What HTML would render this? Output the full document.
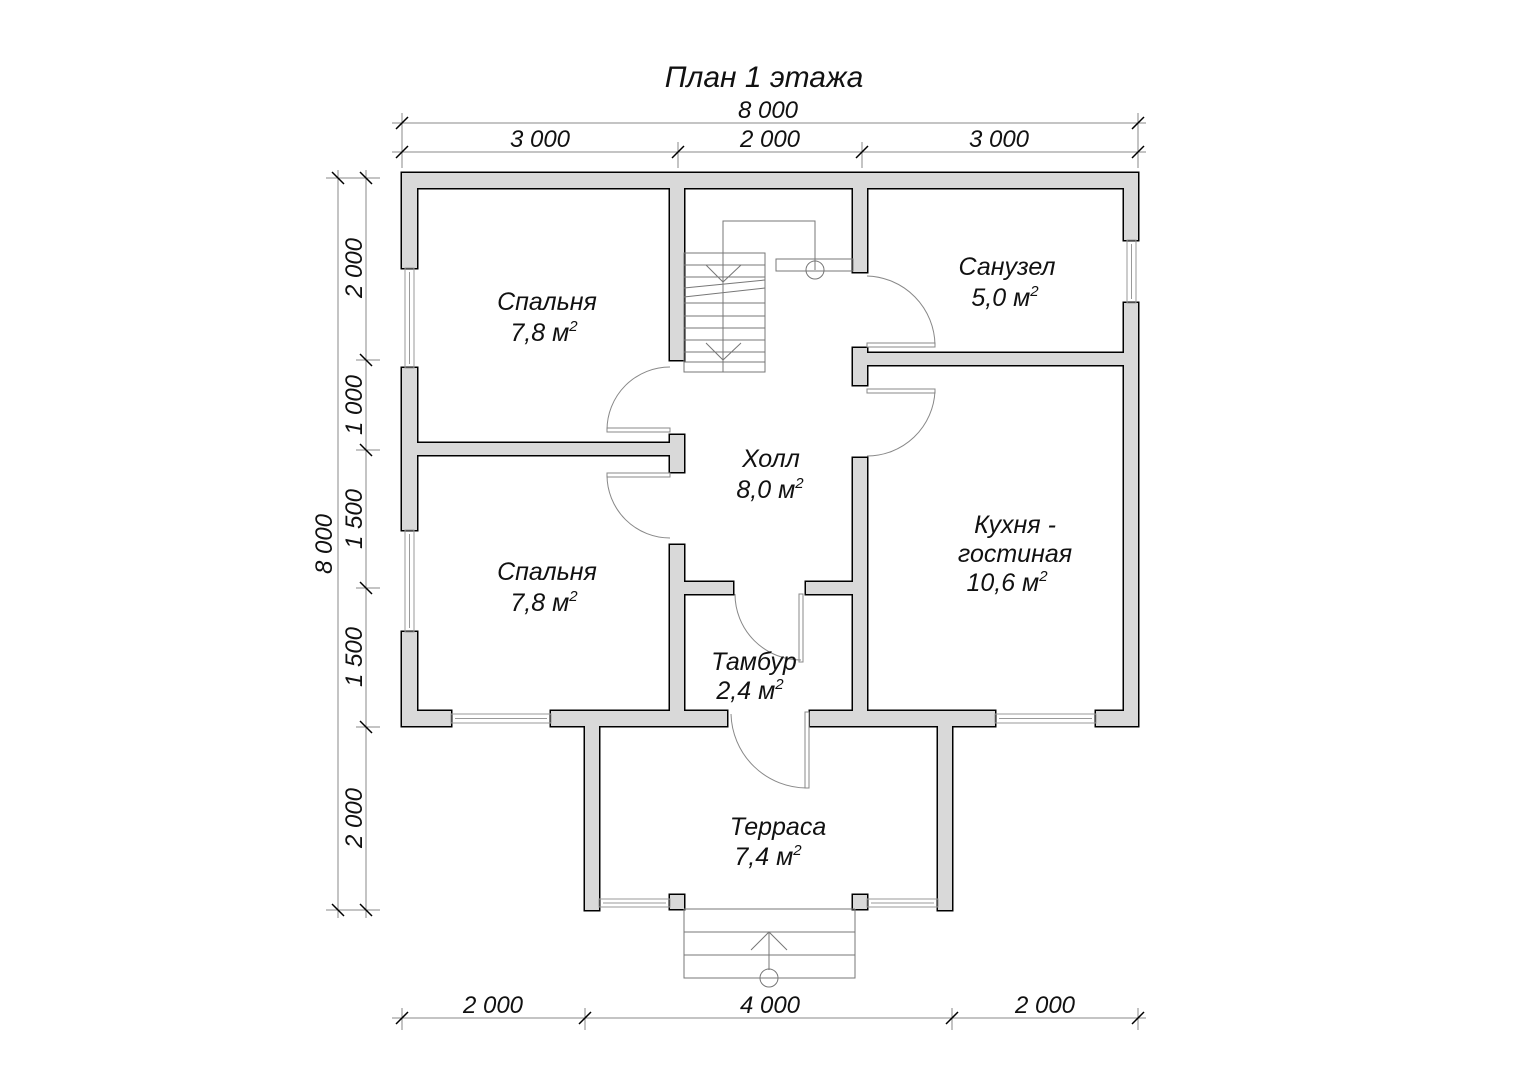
<!DOCTYPE html>
<html><head><meta charset="utf-8"><style>
html,body{margin:0;padding:0;background:#fff}
svg{display:block}
text{font-family:"Liberation Sans",sans-serif;font-style:italic;fill:#111}
</style></head><body>
<svg width="1528" height="1080" viewBox="0 0 1528 1080" xmlns="http://www.w3.org/2000/svg">
<defs>
<g id="walls">
<rect x="402" y="173" width="736" height="15"/>
<rect x="402" y="173" width="15" height="95"/>
<rect x="402" y="368" width="15" height="162"/>
<rect x="402" y="632" width="15" height="94"/>
<rect x="1124" y="173" width="14" height="67"/>
<rect x="1124" y="303" width="14" height="423"/>
<rect x="402" y="711" width="49" height="15"/>
<rect x="551" y="711" width="176" height="15"/>
<rect x="810" y="711" width="185" height="15"/>
<rect x="1096" y="711" width="42" height="15"/>
<rect x="585" y="711" width="14" height="199"/>
<rect x="938" y="711" width="14" height="199"/>
<rect x="670" y="895" width="14" height="14"/>
<rect x="853" y="895" width="14" height="14"/>
<rect x="670" y="188" width="14" height="172"/>
<rect x="670" y="435" width="14" height="37"/>
<rect x="670" y="545" width="14" height="166"/>
<rect x="417" y="443" width="253" height="12"/>
<rect x="853" y="188" width="14" height="84"/>
<rect x="853" y="348" width="14" height="37"/>
<rect x="853" y="458" width="14" height="253"/>
<rect x="867" y="353" width="257" height="12"/>
<rect x="684" y="582" width="49" height="12"/>
<rect x="806" y="582" width="47" height="12"/>
</g>
</defs>
<g stroke="#000" stroke-width="3" fill="#000"><use href="#walls"/></g>
<g fill="#d9d9d9"><use href="#walls"/></g>

<g fill="none" stroke="#999" stroke-width="1">
<rect x="405" y="268" width="9" height="100"/><line x1="409.5" y1="272" x2="409.5" y2="364"/>
<rect x="405" y="530" width="9" height="102"/><line x1="409.5" y1="534" x2="409.5" y2="628"/>
<rect x="1127" y="240" width="9" height="63"/><line x1="1131.5" y1="244" x2="1131.5" y2="299"/>
<rect x="451" y="714" width="100" height="9"/><line x1="455" y1="718.5" x2="547" y2="718.5"/>
<rect x="995" y="714" width="101" height="9"/><line x1="999" y1="718.5" x2="1092" y2="718.5"/>
<rect x="599" y="899" width="71" height="8"/><line x1="603" y1="903" x2="666" y2="903"/>
<rect x="867" y="899" width="71" height="8"/><line x1="871" y1="903" x2="934" y2="903"/>
</g>

<g fill="none" stroke="#888" stroke-width="1">
<rect x="607" y="428" width="63" height="4"/>
<path d="M607 430 A63 63 0 0 1 670 367"/>
<rect x="607" y="473" width="63" height="4"/>
<path d="M607 475 A63 63 0 0 0 670 538"/>
<rect x="867" y="343" width="68" height="4"/>
<path d="M935 345 A70 70 0 0 0 867 276"/>
<rect x="867" y="389" width="68" height="4"/>
<path d="M935 391 A68 68 0 0 1 867 456"/>
<rect x="799" y="594" width="4" height="68"/>
<path d="M735 594 A66 66 0 0 0 801 660"/>
<rect x="805" y="712" width="4" height="76"/>
<path d="M731 714 A76 76 0 0 0 807 788"/>
</g>

<g fill="none" stroke="#777" stroke-width="1">
<rect x="684" y="253" width="81" height="119"/>
<polyline points="723,253 723,221 815,221 815,270"/>
<rect x="776" y="259" width="77" height="12"/>
<circle cx="815" cy="270" r="9"/>
<line x1="723" y1="253" x2="723" y2="372"/>
<line x1="684" y1="265" x2="765" y2="265"/>
<line x1="684" y1="277" x2="765" y2="277"/>
<line x1="684" y1="288" x2="765" y2="280"/>
<line x1="684" y1="297" x2="765" y2="288"/>
<line x1="684" y1="303" x2="765" y2="303"/>
<line x1="684" y1="316" x2="765" y2="316"/>
<line x1="684" y1="328" x2="765" y2="328"/>
<line x1="684" y1="340" x2="765" y2="340"/>
<line x1="684" y1="352" x2="765" y2="352"/>
<line x1="684" y1="362" x2="765" y2="362"/>
<polyline points="706,265 723,282 741,265"/>
<polyline points="706,343 723,360 741,343"/>
<polyline points="684,909 684,978 855,978 855,909"/>
<line x1="684" y1="909" x2="855" y2="909"/>
<line x1="684" y1="932" x2="855" y2="932"/>
<line x1="684" y1="955" x2="855" y2="955"/>
<line x1="769" y1="932" x2="769" y2="970"/>
<polyline points="751,950 769,932 787,950"/>
<circle cx="769" cy="978" r="9"/>
</g>

<g stroke="#888" stroke-width="1" fill="none">
<line x1="392" y1="123" x2="1146" y2="123"/>
<line x1="392" y1="152" x2="1146" y2="152"/>
<line x1="402" y1="113" x2="402" y2="168"/>
<line x1="678" y1="142" x2="678" y2="168"/>
<line x1="862" y1="142" x2="862" y2="168"/>
<line x1="1138" y1="113" x2="1138" y2="168"/>
<line x1="392" y1="1018" x2="1146" y2="1018"/>
<line x1="402" y1="1008" x2="402" y2="1030"/>
<line x1="585" y1="1008" x2="585" y2="1030"/>
<line x1="952" y1="1008" x2="952" y2="1030"/>
<line x1="1138" y1="1008" x2="1138" y2="1030"/>
<line x1="338" y1="170" x2="338" y2="918"/>
<line x1="366" y1="170" x2="366" y2="918"/>
<line x1="326" y1="178" x2="380" y2="178"/>
<line x1="326" y1="910" x2="380" y2="910"/>
<line x1="356" y1="360" x2="380" y2="360"/>
<line x1="356" y1="450" x2="380" y2="450"/>
<line x1="356" y1="588" x2="380" y2="588"/>
<line x1="356" y1="727" x2="380" y2="727"/>
</g>
<g stroke="#000" stroke-width="1.5">
<line x1="396" y1="129" x2="408" y2="117"/>
<line x1="1132" y1="129" x2="1144" y2="117"/>
<line x1="396" y1="158" x2="408" y2="146"/>
<line x1="672" y1="158" x2="684" y2="146"/>
<line x1="856" y1="158" x2="868" y2="146"/>
<line x1="1132" y1="158" x2="1144" y2="146"/>
<line x1="396" y1="1024" x2="408" y2="1012"/>
<line x1="579" y1="1024" x2="591" y2="1012"/>
<line x1="946" y1="1024" x2="958" y2="1012"/>
<line x1="1132" y1="1024" x2="1144" y2="1012"/>
<line x1="332" y1="172" x2="344" y2="184"/>
<line x1="332" y1="904" x2="344" y2="916"/>
<line x1="360" y1="172" x2="372" y2="184"/>
<line x1="360" y1="354" x2="372" y2="366"/>
<line x1="360" y1="444" x2="372" y2="456"/>
<line x1="360" y1="582" x2="372" y2="594"/>
<line x1="360" y1="721" x2="372" y2="733"/>
<line x1="360" y1="904" x2="372" y2="916"/>
</g>

<text x="764" y="87" font-size="30" text-anchor="middle">План 1 этажа</text>
<g font-size="24" text-anchor="middle">
<text x="768" y="118">8 000</text>
<text x="540" y="147">3 000</text>
<text x="770" y="147">2 000</text>
<text x="999" y="147">3 000</text>
<text x="493" y="1013">2 000</text>
<text x="770" y="1013">4 000</text>
<text x="1045" y="1013">2 000</text>
<text transform="translate(332,544) rotate(-90)">8 000</text>
<text transform="translate(362,268) rotate(-90)">2 000</text>
<text transform="translate(362,405) rotate(-90)">1 000</text>
<text transform="translate(362,519) rotate(-90)">1 500</text>
<text transform="translate(362,657) rotate(-90)">1 500</text>
<text transform="translate(362,818) rotate(-90)">2 000</text>
</g>
<g font-size="25" text-anchor="middle">
<text x="547" y="310">Спальня</text>
<text x="544" y="341">7,8 м<tspan font-size="15" dy="-10">2</tspan></text>
<text x="547" y="580">Спальня</text>
<text x="544" y="611">7,8 м<tspan font-size="15" dy="-10">2</tspan></text>
<text x="1007" y="275">Санузел</text>
<text x="1005" y="306">5,0 м<tspan font-size="15" dy="-10">2</tspan></text>
<text x="771" y="467">Холл</text>
<text x="770" y="498">8,0 м<tspan font-size="15" dy="-10">2</tspan></text>
<text x="1015" y="533">Кухня -</text>
<text x="1015" y="562">гостиная</text>
<text x="1007" y="591">10,6 м<tspan font-size="15" dy="-10">2</tspan></text>
<text x="754" y="670">Тамбур</text>
<text x="750" y="699">2,4 м<tspan font-size="15" dy="-10">2</tspan></text>
<text x="778" y="835">Терраса</text>
<text x="768" y="865">7,4 м<tspan font-size="15" dy="-10">2</tspan></text>
</g>
</svg>
</body></html>
